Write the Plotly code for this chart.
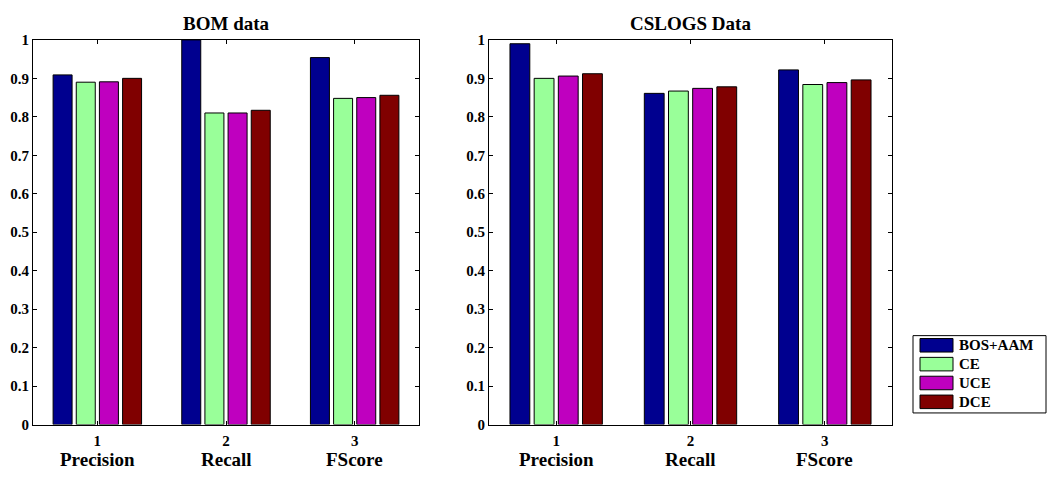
import plotly.graph_objects as go

W, H = 1049, 477

# Categories and series
positions = [1, 2, 3]
metrics = ["Precision", "Recall", "FScore"]
methods = ["BOS+AAM", "CE", "UCE", "DCE"]
colors = ["#00008f", "#99ff99", "#bf00bf", "#800000"]

bom_bos = [0.909, 1.000, 0.954]
bom_ce = [0.890, 0.810, 0.848]
bom_uce = [0.891, 0.810, 0.850]
bom_dce = [0.900, 0.817, 0.856]

cslogs_bos = [0.990, 0.861, 0.922]
cslogs_ce = [0.900, 0.867, 0.884]
cslogs_uce = [0.906, 0.874, 0.889]
cslogs_dce = [0.912, 0.878, 0.896]

x_ticktext = ["1", "2", "3"]
y_tickvals = [0, 0.1, 0.2, 0.3, 0.4, 0.5, 0.6, 0.7, 0.8, 0.9, 1]
y_ticktext = ["0", "0.1", "0.2", "0.3", "0.4", "0.5", "0.6", "0.7", "0.8", "0.9", "1"]

FONT = "Liberation Serif"


def px(x):
    return x / W


def py(y):
    return 1 - y / H


def bold(labels):
    return ["<b>%s</b>" % s for s in labels]


fig = go.Figure()

panels = [
    ("x", "y", [bom_bos, bom_ce, bom_uce, bom_dce]),
    ("x2", "y2", [cslogs_bos, cslogs_ce, cslogs_uce, cslogs_dce]),
]
for xa, ya, series in panels:
    for name, color, vals in zip(methods, colors, series):
        fig.add_trace(go.Bar(
            x=positions, y=vals, name=name, xaxis=xa, yaxis=ya,
            marker=dict(color=color, line=dict(color="black", width=1)),
            showlegend=False,
        ))

axis_common = dict(
    showline=True, linecolor="black", linewidth=1, mirror="allticks",
    ticks="inside", ticklen=4, tickcolor="black", tickwidth=1,
    showgrid=False, zeroline=False,
    tickfont=dict(family=FONT, size=15, color="black"),
)

fig.update_layout(
    width=W, height=H,
    margin=dict(l=0, r=0, t=0, b=0),
    paper_bgcolor="white", plot_bgcolor="white",
    barmode="group", bargap=0.28, bargroupgap=0.18,
    showlegend=False,
    xaxis=dict(domain=[px(33), px(419)], range=[0.5, 3.5], anchor="y",
               tickvals=positions, ticktext=bold(x_ticktext),
               ticklabelstandoff=2, **axis_common),
    yaxis=dict(domain=[py(431), py(33)], range=[0, 1], anchor="x",
               tickvals=y_tickvals, ticktext=bold(y_ticktext), **axis_common),
    xaxis2=dict(domain=[px(489), px(892)], range=[0.5, 3.5], anchor="y2",
                tickvals=positions, ticktext=bold(x_ticktext),
                ticklabelstandoff=2, **axis_common),
    yaxis2=dict(domain=[py(431), py(33)], range=[0, 1], anchor="x2",
                tickvals=y_tickvals, ticktext=bold(y_ticktext), **axis_common),
)

annotations = []
# Panel titles
for text, cx in [("BOM data", (33 + 419) / 2), ("CSLOGS Data", (489 + 892) / 2)]:
    annotations.append(dict(
        text="<b>%s</b>" % text, x=px(cx), y=py(16), xref="paper", yref="paper",
        xanchor="center", yanchor="middle", showarrow=False,
        font=dict(family=FONT, size=19, color="black"),
    ))
# Metric names under the tick numbers
for xref in ["x", "x2"]:
    for pos, m in zip(positions, metrics):
        annotations.append(dict(
            text="<b>%s</b>" % m, x=pos, y=py(467), xref=xref, yref="paper",
            xanchor="center", yanchor="middle", showarrow=False,
            font=dict(family=FONT, size=19, color="black"),
        ))

# Legend box
shapes = [dict(type="rect", xref="paper", yref="paper",
               x0=px(913), x1=px(1046), y0=py(419), y1=py(339),
               line=dict(color="black", width=1), fillcolor="white")]
row_tops = [342, 361.5, 381, 400.5]
for name, color, top in zip(methods, colors, row_tops):
    shapes.append(dict(type="rect", xref="paper", yref="paper",
                       x0=px(920), x1=px(953), y0=py(top + 14), y1=py(top),
                       line=dict(color="black", width=1), fillcolor=color))
    annotations.append(dict(
        text="<b>%s</b>" % name, x=px(957), y=py(top + 7), xref="paper", yref="paper",
        xanchor="left", yanchor="middle", showarrow=False,
        font=dict(family=FONT, size=15, color="black"),
    ))

fig.update_layout(annotations=annotations, shapes=shapes)

fig.write_html("out.html")
